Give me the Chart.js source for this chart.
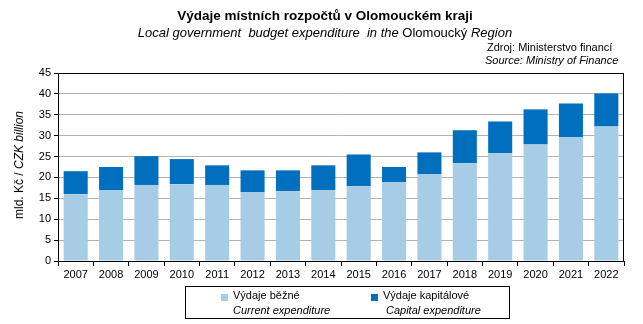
<!DOCTYPE html>
<html>
<head>
<meta charset="utf-8">
<script src="https://cdn.jsdelivr.net/npm/chart.js@4/dist/chart.umd.min.js"></script>
<style>
  html, body { margin:0; padding:0; background:#fff; }
  #wrap { position:relative; width:643px; height:324px; overflow:hidden; font-family:"Liberation Sans", Arial, sans-serif; color:#000; }
  #c { position:absolute; left:0; top:0; }
  .t { position:absolute; white-space:nowrap; }
  #title { left:0; width:650px; text-align:center; top:8px; font-size:13.5px; font-weight:bold; }
  #sub { left:0; width:650px; text-align:center; top:25px; font-size:13px; font-style:italic; }
  #sub span { font-style:normal; }
  #src1 { left:487px; top:41px; font-size:11px; }
  #src2 { left:485px; top:54px; font-size:11px; font-style:italic; }
  #ylab { left:19px; top:165px; font-size:12px; font-weight:normal; transform:translate(-50%,-50%) rotate(-90deg); }
  #ylab i { font-style:italic; font-weight:normal; }
  #legend { position:absolute; left:185px; top:286px; width:325px; height:33px; border:1px solid #000; box-sizing:border-box; font-size:11px; }
  .sq { position:absolute; width:7px; height:7px; }
  .l1 { position:absolute; white-space:nowrap; }
  .l2 { position:absolute; white-space:nowrap; font-style:italic; }
</style>
</head>
<body>
<div id="wrap">
  <canvas id="c" width="643" height="324"></canvas>
  <div class="t" id="title">Výdaje místních rozpočtů v Olomouckém kraji</div>
  <div class="t" id="sub">Local government&nbsp; budget expenditure&nbsp; in the <span>Olomoucký</span> Region</div>
  <div class="t" id="src1">Zdroj: Ministerstvo financí</div>
  <div class="t" id="src2">Source: Ministry of Finance</div>
  <div class="t" id="ylab">mld. Kč / <i>CZK billion</i></div>
  <div id="legend"></div>
</div>
<script>
const years = ["2007","2008","2009","2010","2011","2012","2013","2014","2015","2016","2017","2018","2019","2020","2021","2022"];
const currentExp = [16.0, 17.0, 18.2, 18.4, 18.2, 16.5, 16.7, 17.0, 17.9, 18.9, 20.8, 23.4, 25.8, 27.9, 29.6, 32.2];
const capitalExp = [5.5, 5.5, 6.9, 6.0, 4.7, 5.2, 5.0, 5.9, 7.6, 3.6, 5.2, 7.9, 7.6, 8.4, 8.1, 7.9];
const seriesNamesCz = ["Výdaje běžné", "Výdaje kapitálové"];
const seriesNamesEn = ["Current expenditure", "Capital expenditure"];
const colors = ["#a7cce6", "#006fbe"];

const lg = document.getElementById('legend');
const lpos = [{sq:35, tx:47, tx2:47}, {sq:185, tx:197, tx2:200}];
seriesNamesCz.forEach((n,i)=>{
  const s = document.createElement('div'); s.className='sq'; s.style.left=lpos[i].sq+'px'; s.style.top='7px'; s.style.background=colors[i]; lg.appendChild(s);
  const a = document.createElement('div'); a.className='l1'; a.style.left=lpos[i].tx+'px'; a.style.top='2px'; a.textContent=n; lg.appendChild(a);
  const b = document.createElement('div'); b.className='l2'; b.style.left=lpos[i].tx2+'px'; b.style.top='17px'; b.textContent=seriesNamesEn[i]; lg.appendChild(b);
});

const frame = {
  id:'frame',
  afterDraw(chart){
    const a = chart.chartArea, ctx = chart.ctx;
    ctx.save(); ctx.strokeStyle='#000'; ctx.lineWidth=1;
    ctx.strokeRect(Math.round(a.left)+0.5, Math.round(a.top)+0.5, Math.round(a.right-a.left)-1, Math.round(a.bottom-a.top));
    ctx.restore();
  }
};

new Chart(document.getElementById('c'), {
  type:'bar',
  data:{
    labels: years,
    datasets:[
      {label: seriesNamesCz[0], data: currentExp, backgroundColor: colors[0], barPercentage:0.68, categoryPercentage:1},
      {label: seriesNamesCz[1], data: capitalExp, backgroundColor: colors[1], barPercentage:0.68, categoryPercentage:1}
    ]
  },
  options:{
    responsive:false, animation:false, devicePixelRatio:1,
    layout:{padding:{left:0, right:19, top:73, bottom:43}},
    plugins:{legend:{display:false}, tooltip:{enabled:false}},
    scales:{
      x:{
        stacked:true,
        grid:{offset:true, drawOnChartArea:false, drawTicks:true, tickLength:5, color:'#000', tickColor:'#000'},
        border:{color:'#000'},
        ticks:{color:'#000', font:{family:'"Liberation Sans", Arial, sans-serif', size:11}, padding:2, maxRotation:0, autoSkip:false},
        afterFit(s){ s.height = 20; }
      },
      y:{
        stacked:true, min:0, max:45,
        grid:{color:'#b3b3b3', tickColor:'#000', tickLength:4, lineWidth:1},
        border:{color:'#000'},
        ticks:{stepSize:5, color:'#000', font:{family:'"Liberation Sans", Arial, sans-serif', size:11}, padding:3},
        afterFit(s){ s.width = 58; }
      }
    }
  },
  plugins:[frame]
});
</script>
</body>
</html>
